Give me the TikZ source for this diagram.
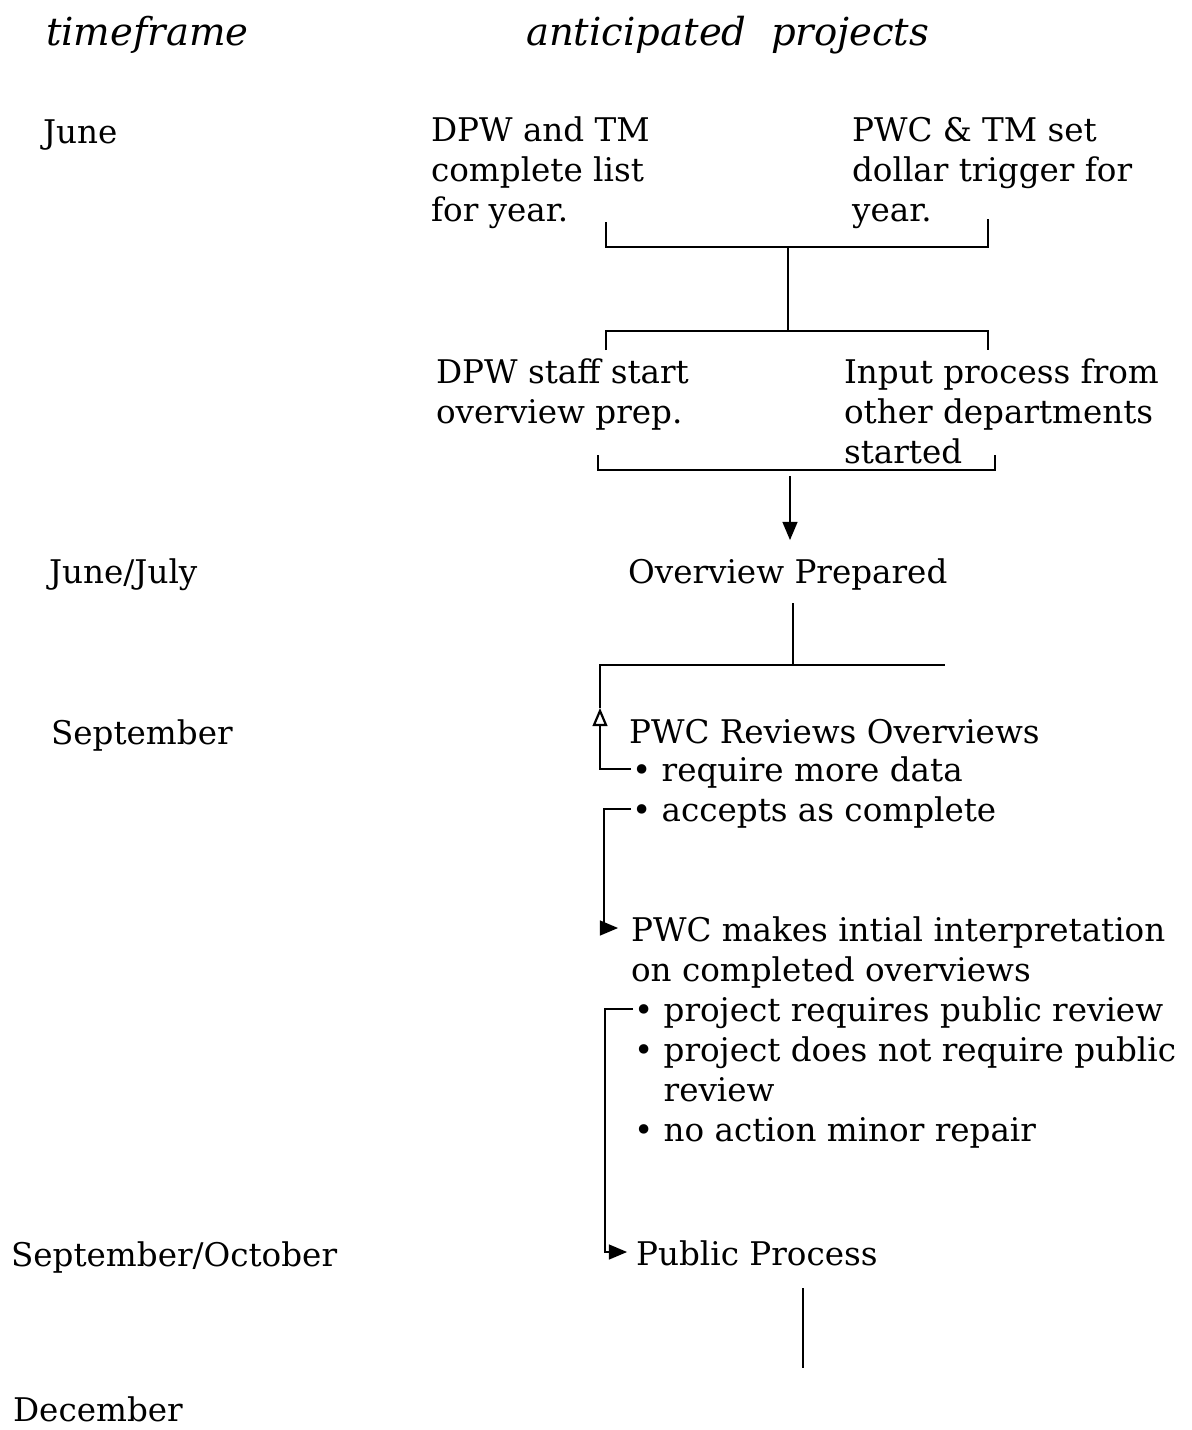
\documentclass[tikz,border=0pt]{standalone}
\usepackage{fontspec}
\setmainfont{DejaVu Serif}
\usetikzlibrary{arrows}

\begin{document}
\begin{tikzpicture}[x=0.5pt,y=-0.5pt,line width=1.1pt]
  \tikzstyle{every node}=[inner sep=0pt,font=\fontsize{16.3}{20}\selectfont]
  \tikzstyle{month}=[anchor=base west]
  \tikzstyle{stepbox}=[anchor=north west,align=left]
  \tikzstyle{item}=[anchor=base west,align=left]
  \tikzstyle{head}=[anchor=base west,font=\fontsize{19.3}{20}\selectfont\itshape]
  \useasboundingbox (0,0) rectangle (1191,1430);

  \node[head] (time) at (45,45)  {timeframe};
  \node[head] (proj) at (525,45) {anticipated\ \ projects};

  \node[month] (jun)  at (42,143)  {June};
  \node[month] (junjul) at (48,583) {June/July};
  \node[month] (sep)  at (50,744)  {September};
  \node[month] (sepoct) at (10,1266) {September/October};
  \node[month] (dec)  at (12,1421) {December};

  \node[stepbox] (list)    at (430,116) {DPW and TM\\complete list\\for year.};
  \node[stepbox] (trigger) at (851,116) {PWC \& TM set\\dollar trigger for\\year.};
  \node[stepbox] (staff)   at (435,358) {DPW staff start\\overview prep.};
  \node[stepbox] (input)   at (843,358) {Input process from\\other departments\\started};
  \node[item] (over)    at (627,583) {Overview Prepared};
  \node[item] (review)  at (628,743) {PWC Reviews Overviews};
  \node[item] (more)    at (631,781) {\textbullet\ require more data};
  \node[item] (accept)  at (631,821) {\textbullet\ accepts as complete};
  \node[stepbox] (interp)  at (630,916) {PWC makes intial interpretation\\on completed overviews};
  \node[item] (pub)     at (633,1021) {\textbullet\ project requires public review};
  \node[item] (nopub)   at (633,1101) {\textbullet\ project does not require public\\\phantom{\textbullet\ }review};
  \node[item] (noact)   at (633,1141) {\textbullet\ no action minor repair};
  \node[item] (public)  at (635,1265) {Public Process};

  \coordinate (b1l) at (606,247);  \coordinate (b1r) at (988,247);
  \coordinate (b2l) at (606,331);  \coordinate (b2r) at (988,331);
  \coordinate (b3l) at (598,470);  \coordinate (b3r) at (995,470);
  \coordinate (loopl) at (600,665); \coordinate (loopr) at (945,665);
  \coordinate (back) at (600,708);

  \draw (b1l) ++(0,-25) -- (b1l) -- (b1r) -- ++(0,-28);
  \draw (788,247) -- (788,331);
  \draw (b2l) ++(0,19) -- (b2l) -- (b2r) -- ++(0,19);
  \draw (b3l) ++(0,-15) -- (b3l) -- (b3r) -- ++(0,-15);
  \draw[-triangle 45] (790,476) -- (790,540);

  \draw (793,603) -- (793,665);
  \draw (back) -- (loopl) -- (loopr);
  \draw[-open triangle 45] (more.base west) ++(0,-12) -| (back);
  \draw[-triangle 45] (accept.base west) ++(0,-12) -| (604,928) -- (618,928);
  \draw[-triangle 45] (pub.base west) ++(0,-12) -| (605,1252) -- (627,1252);
  \draw (803,1288) -- (803,1368);
\end{tikzpicture}
\end{document}
